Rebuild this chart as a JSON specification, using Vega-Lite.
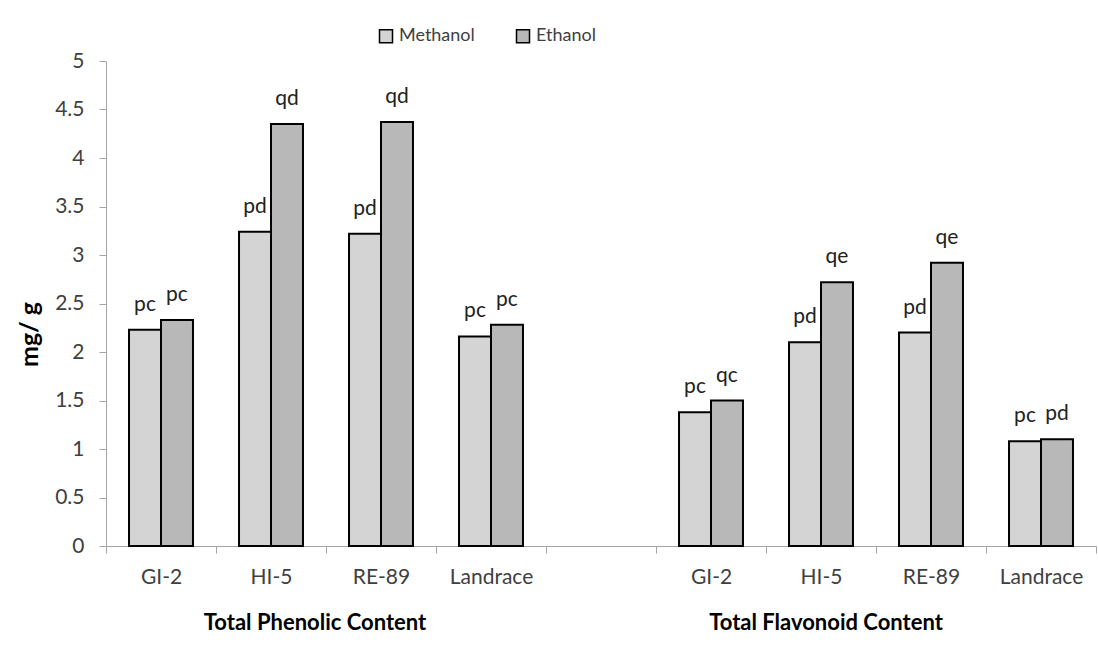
{
  "$schema": "https://vega.github.io/schema/vega-lite/v6.json",
  "width": 990,
  "height": 485,
  "autosize": {"type": "none"},
  "padding": {"left": 106, "top": 61, "right": 2, "bottom": 106},
  "background": "white",
  "config": {"font": "Lato", "view": {"stroke": null}},
  "datasets": {
    "bars": [
      {"slot": "GI-2", "solvent": "Methanol", "value": 2.23, "label": "pc"},
      {"slot": "GI-2", "solvent": "Ethanol", "value": 2.33, "label": "pc"},
      {"slot": "HI-5", "solvent": "Methanol", "value": 3.24, "label": "pd"},
      {"slot": "HI-5", "solvent": "Ethanol", "value": 4.35, "label": "qd"},
      {"slot": "RE-89", "solvent": "Methanol", "value": 3.22, "label": "pd"},
      {"slot": "RE-89", "solvent": "Ethanol", "value": 4.37, "label": "qd"},
      {"slot": "Landrace", "solvent": "Methanol", "value": 2.16, "label": "pc"},
      {"slot": "Landrace", "solvent": "Ethanol", "value": 2.28, "label": "pc"},
      {"slot": "GI-2 ", "solvent": "Methanol", "value": 1.38, "label": "pc"},
      {"slot": "GI-2 ", "solvent": "Ethanol", "value": 1.50, "label": "qc"},
      {"slot": "HI-5 ", "solvent": "Methanol", "value": 2.10, "label": "pd"},
      {"slot": "HI-5 ", "solvent": "Ethanol", "value": 2.72, "label": "qe"},
      {"slot": "RE-89 ", "solvent": "Methanol", "value": 2.20, "label": "pd"},
      {"slot": "RE-89 ", "solvent": "Ethanol", "value": 2.92, "label": "qe"},
      {"slot": "Landrace ", "solvent": "Methanol", "value": 1.08, "label": "pc"},
      {"slot": "Landrace ", "solvent": "Ethanol", "value": 1.10, "label": "pd"}
    ],
    "groupP": [{"slot": "HI-5", "group": "Total Phenolic Content"}],
    "groupF": [{"slot": "HI-5 ", "group": "Total Flavonoid Content"}]
  },
  "encoding": {
    "x": {
      "field": "slot",
      "type": "nominal",
      "scale": {
        "domain": ["GI-2", "HI-5", "RE-89", "Landrace", " ", "GI-2 ", "HI-5 ", "RE-89 ", "Landrace "],
        "paddingInner": 0,
        "paddingOuter": 0
      },
      "axis": {
        "title": null,
        "labelAngle": 0,
        "tickBand": "extent",
        "domainColor": "#a6a6a6",
        "tickColor": "#a6a6a6",
        "tickSize": 7,
        "labelFontSize": 21,
        "labelColor": "#404040",
        "labelPadding": 13
      }
    }
  },
  "layer": [
    {
      "data": {"name": "bars"},
      "mark": {"type": "bar", "stroke": "black", "strokeWidth": 2},
      "encoding": {
        "xOffset": {"field": "solvent", "type": "nominal", "scale": {"domain": ["Methanol", "Ethanol"], "paddingInner": 0, "paddingOuter": 0.72}},
        "y": {
          "field": "value",
          "type": "quantitative",
          "stack": null,
          "scale": {"domain": [0, 5], "nice": false},
          "axis": {
            "tickCount": 10,
            "format": "~g",
            "grid": false,
            "domainColor": "#a6a6a6",
            "tickColor": "#a6a6a6",
            "tickSize": 7,
            "labelFontSize": 21,
            "labelColor": "#404040",
            "labelPadding": 15,
            "title": "mg/ g",
            "titleFontSize": 25,
            "titleFontWeight": "bold",
            "titleColor": "black",
            "titleX": -77,
            "titleY": 273,
            "titleBaseline": "middle"
          }
        },
        "color": {
          "field": "solvent",
          "type": "nominal",
          "scale": {"domain": ["Methanol", "Ethanol"], "range": ["#d4d4d4", "#b8b8b8"]},
          "legend": {
            "orient": "none",
            "legendX": 271,
            "legendY": -34,
            "direction": "horizontal",
            "title": null,
            "symbolType": "square",
            "symbolSize": 169,
            "symbolStrokeColor": "black",
            "symbolStrokeWidth": 1.5,
            "labelFontSize": 18,
            "labelColor": "#404040",
            "labelOffset": 4,
            "columnPadding": 38
          }
        }
      }
    },
    {
      "data": {"name": "bars"},
      "mark": {"type": "text", "fontSize": 21, "color": "#222", "baseline": "alphabetic", "dy": -19},
      "encoding": {
        "xOffset": {"field": "solvent", "type": "nominal", "scale": {"domain": ["Methanol", "Ethanol"], "paddingInner": 0, "paddingOuter": 0.72}},
        "y": {"field": "value", "type": "quantitative", "stack": null},
        "text": {"field": "label"}
      }
    },
    {
      "data": {"name": "groupP"},
      "mark": {"type": "text", "fontSize": 22, "fontWeight": "bold", "color": "black", "dx": 44, "baseline": "middle"},
      "encoding": {"y": {"datum": -0.79, "type": "quantitative"}, "text": {"field": "group"}}
    },
    {
      "data": {"name": "groupF"},
      "mark": {"type": "text", "fontSize": 22, "fontWeight": "bold", "color": "black", "dx": 5, "baseline": "middle"},
      "encoding": {"y": {"datum": -0.79, "type": "quantitative"}, "text": {"field": "group"}}
    }
  ]
}
